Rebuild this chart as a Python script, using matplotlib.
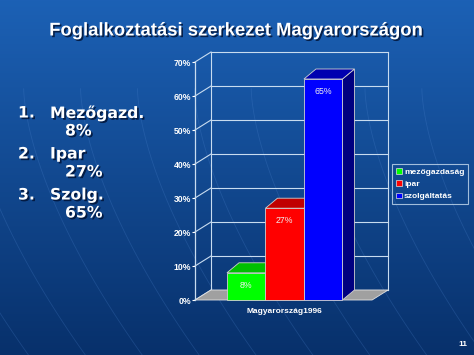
import numpy as np
import matplotlib.pyplot as plt
import matplotlib.patheffects as pe
from matplotlib.patches import Polygon, Patch

# data
sectors = ["mezőgazdaság", "ipar", "szolgáltatás"]
shares = [8, 27, 65]
front_cols = ["#00ff00", "#ff0000", "#0000ff"]
top_cols = ["#00c000", "#c00000", "#0000b0"]
side_cols = ["#008000", "#800000", "#000080"]
yticks = [0, 10, 20, 30, 40, 50, 60, 70]
group_label = "Magyarország1996"
title = "Foglalkoztatási szerkezet Magyarországon"
left_items = [("1.", "Mezőgazd.", "8%"), ("2.", "Ipar", "27%"), ("3.", "Szolg.", "65%")]

plt.rcParams['font.family'] = ['Liberation Sans', 'DejaVu Sans']

fig = plt.figure(figsize=(4.74, 3.55), dpi=100)

# background gradient
bg = fig.add_axes([0, 0, 1, 1])
grad = np.linspace(0, 1, 256).reshape(-1, 1)
top = np.array([0.11, 0.38, 0.71])
bot = np.array([0.03, 0.19, 0.42])
img = top + (bot - top) * grad[..., None]
bg.imshow(img, aspect='auto', extent=[0, 1, 0, 1], origin='upper')
# faint globe arcs
tt = np.linspace(0, 1, 100)
for k in range(-3, 9):
    xs = 0.05 + k * 0.12 + 0.25 * tt ** 1.6
    ys = 0.75 - 0.75 * tt
    bg.plot(xs, ys, color="#4f86d0", lw=0.6, alpha=0.25)
bg.set_xlim(0, 1)
bg.set_ylim(0, 1)
bg.axis('off')

W, H = 474, 355
# chart axes: 1 x-unit = 38.5 px, 1% = 3.4 px, front origin at (195, 300)
ux, uy = 38.5, 3.4
x_lo, x_hi = -0.5, 5.5
y_lo, y_hi = -1, 75
left_px = 195 + x_lo * ux
bottom_px = 300 - y_lo * uy
ax = fig.add_axes([left_px / W, (H - bottom_px) / H,
                   (x_hi - x_lo) * ux / W, (y_hi - y_lo) * uy / H])
ax.set_xlim(x_lo, x_hi)
ax.set_ylim(y_lo, y_hi)
ax.patch.set_alpha(0)

wall_dx, wall_dy = 16 / ux, 10 / uy
bar_dx, bar_dy = 12 / ux, 10 / uy
floor_w = 4.6
lc = "#c8dcf0"

# floor
ax.add_patch(Polygon([(0, 0), (floor_w, 0), (floor_w + wall_dx, wall_dy), (wall_dx, wall_dy)],
                     closed=True, fc="#a0a0a0", ec="#e0e0e0", lw=0.6, zorder=1))
# back wall grid and side wall diagonals
for v in yticks:
    ax.plot([wall_dx, floor_w + wall_dx], [v + wall_dy, v + wall_dy], color=lc, lw=0.8, zorder=0.5)
    ax.plot([0, wall_dx], [v, v + wall_dy], color=lc, lw=0.8, zorder=0.5)
ax.plot([wall_dx, wall_dx], [wall_dy, yticks[-1] + wall_dy], color=lc, lw=0.8, zorder=0.5)
ax.plot([floor_w + wall_dx] * 2, [wall_dy, yticks[-1] + wall_dy], color=lc, lw=0.8, zorder=0.5)

# bars
x0 = 0.83
for i, (v, fc, tc, sc) in enumerate(zip(shares, front_cols, top_cols, side_cols)):
    xl = x0 + i
    xr = xl + 1
    z = 2 + i
    ax.add_patch(Polygon([(xr, 0), (xr + bar_dx, bar_dy), (xr + bar_dx, v + bar_dy), (xr, v)],
                         closed=True, fc=sc, ec="#d0d0d0", lw=0.6, zorder=z))
    ax.add_patch(Polygon([(xl, v), (xr, v), (xr + bar_dx, v + bar_dy), (xl + bar_dx, v + bar_dy)],
                         closed=True, fc=tc, ec="#d0d0d0", lw=0.6, zorder=z))
    ax.add_patch(Polygon([(xl, 0), (xr, 0), (xr, v), (xl, v)],
                         closed=True, fc=fc, ec="#d0d0d0", lw=0.6, zorder=z))
    ax.annotate(f"{v}%", (xl + 0.5, v), xytext=(0, -9), textcoords="offset points",
                ha="center", va="center", fontsize=6.3, color="#f0f0f0", zorder=10)

# front y axis
for s in ["top", "right", "bottom"]:
    ax.spines[s].set_visible(False)
ax.spines["left"].set_position(("data", 0))
ax.spines["left"].set_bounds(0, yticks[-1])
ax.spines["left"].set_color(lc)
ax.spines["left"].set_linewidth(0.9)
ax.set_yticks(yticks)
ax.set_yticklabels([f"{v}%" for v in yticks])
ax.tick_params(axis="y", colors="white", labelsize=6.2, length=2, width=0.8, pad=1)
for t in ax.get_yticklabels():
    t.set_fontweight("bold")
ax.set_xticks([x0 + 1.5])
ax.set_xticklabels([group_label], fontsize=6, fontweight="bold", color="white")
ax.tick_params(axis="x", length=0, pad=3)

# legend
handles = [Patch(fc=c, ec="#e0e0e0", lw=0.5, label=s) for c, s in zip(front_cols, sectors)]
leg = fig.legend(handles=handles, loc="upper left", bbox_to_anchor=(392 / W, 1 - 164 / H),
                 fontsize=6, frameon=True, handlelength=0.7, handleheight=0.7,
                 handletextpad=0.3, borderpad=0.45, labelspacing=0.55, borderaxespad=0)
leg.get_frame().set_facecolor("none")
leg.get_frame().set_edgecolor(lc)
leg.get_frame().set_linewidth(0.8)
leg.get_frame().set_boxstyle("square", pad=0)
for t in leg.get_texts():
    t.set_color("white")
    t.set_fontweight("bold")

shadow = [pe.SimplePatchShadow(offset=(1.2, -1.2), shadow_rgbFace="#001030", alpha=0.8), pe.Normal()]

fig.text(236 / W, 1 - 31 / H, title, ha="center", va="center", fontsize=13.3,
         fontweight="bold", color="white", path_effects=shadow)

rows_y = [(113, 131), (154, 172), (195, 213)]
for (num, name, pct), (y1, y2) in zip(left_items, rows_y):
    fig.text(18 / W, 1 - y1 / H, num, ha="left", va="center", fontsize=11.3,
             fontweight="bold", color="white", family="DejaVu Sans", path_effects=shadow)
    fig.text(50 / W, 1 - y1 / H, name, ha="left", va="center", fontsize=11.3,
             fontweight="bold", color="white", family="DejaVu Sans", path_effects=shadow)
    fig.text(65 / W, 1 - y2 / H, pct, ha="left", va="center", fontsize=11.3,
             fontweight="bold", color="white", family="DejaVu Sans", path_effects=shadow)

fig.text(463 / W, 1 - 344 / H, "11", ha="center", va="center", fontsize=6,
         fontweight="bold", color="white")

fig.savefig("out.png", dpi=100)
